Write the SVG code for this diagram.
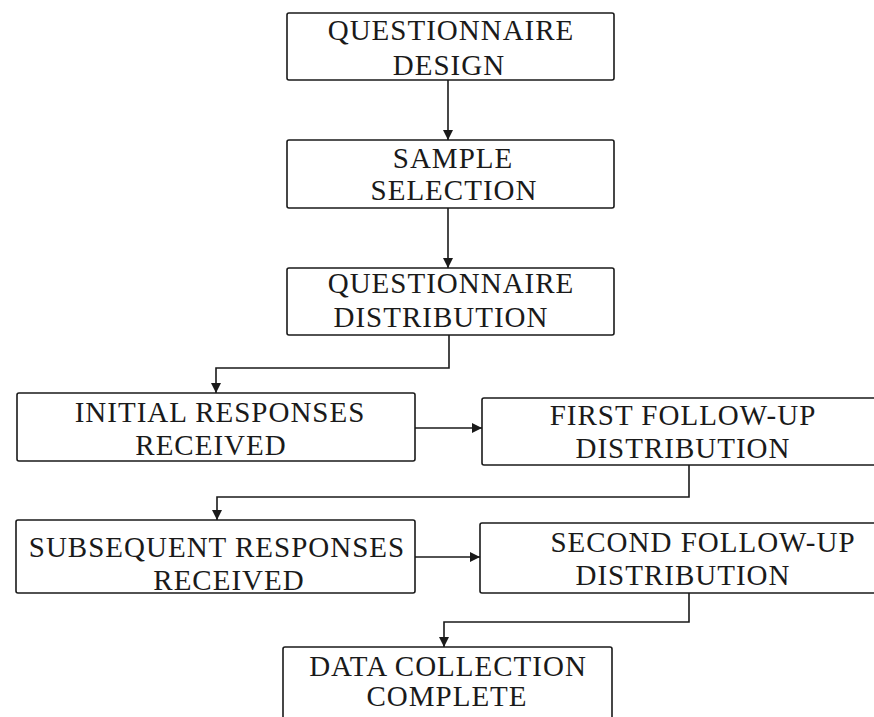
<svg xmlns="http://www.w3.org/2000/svg" width="874" height="717" viewBox="0 0 874 717">
  <defs>
    <marker id="arrow" viewBox="0 0 10 10" refX="10" refY="5" markerWidth="10" markerHeight="10" markerUnits="userSpaceOnUse" orient="auto">
      <path d="M0,0 L10,5 L0,10 Z" fill="#1a1a1a"/>
    </marker>
    <style>
      .box { fill: #ffffff; stroke: #1a1a1a; stroke-width: 1.6; }
      .lbl { font-family: "Liberation Serif", "Times New Roman", serif; font-size: 29px; fill: #1a1a1a; text-anchor: middle; letter-spacing: 1px; }
      .wire { fill: none; stroke: #1a1a1a; stroke-width: 1.6; }
    </style>
  </defs>
  <rect width="874" height="717" fill="#ffffff"/>

  <g id="connectors">
    <path class="wire" d="M448,80 L448,140" marker-end="url(#arrow)"/>
    <path class="wire" d="M448,208 L448,268" marker-end="url(#arrow)"/>
    <path class="wire" d="M449,335 L449,368 L216,368 L216,393" marker-end="url(#arrow)"/>
    <path class="wire" d="M415,428 L482,428" marker-end="url(#arrow)"/>
    <path class="wire" d="M689,465 L689,497 L217,497 L217,520" marker-end="url(#arrow)"/>
    <path class="wire" d="M415,557 L480,557" marker-end="url(#arrow)"/>
    <path class="wire" d="M689,593 L689,622 L444,622 L444,647" marker-end="url(#arrow)"/>
  </g>

  <g id="questionnaire-design">
    <rect class="box" x="287" y="13" width="327" height="67" rx="2"/>
    <text class="lbl" x="451" y="40">QUESTIONNAIRE</text>
    <text class="lbl" x="449" y="75">DESIGN</text>
  </g>

  <g id="sample-selection">
    <rect class="box" x="287" y="140" width="327" height="68" rx="2"/>
    <text class="lbl" x="453" y="168">SAMPLE</text>
    <text class="lbl" x="454" y="200">SELECTION</text>
  </g>

  <g id="questionnaire-distribution">
    <rect class="box" x="287" y="268" width="327" height="67" rx="2"/>
    <text class="lbl" x="451" y="293">QUESTIONNAIRE</text>
    <text class="lbl" x="441" y="327">DISTRIBUTION</text>
  </g>

  <g id="initial-responses">
    <rect class="box" x="17" y="393" width="398" height="68" rx="2"/>
    <text class="lbl" x="220" y="422">INITIAL RESPONSES</text>
    <text class="lbl" x="211" y="455">RECEIVED</text>
  </g>

  <g id="first-follow-up">
    <rect class="box" x="482" y="398" width="400" height="67" rx="2"/>
    <text class="lbl" x="683" y="425">FIRST FOLLOW-UP</text>
    <text class="lbl" x="683" y="458">DISTRIBUTION</text>
  </g>

  <g id="subsequent-responses">
    <rect class="box" x="16" y="520" width="399" height="73" rx="2"/>
    <text class="lbl" x="217" y="557">SUBSEQUENT RESPONSES</text>
    <text class="lbl" x="229" y="590">RECEIVED</text>
  </g>

  <g id="second-follow-up">
    <rect class="box" x="480" y="523" width="402" height="70" rx="2"/>
    <text class="lbl" x="703" y="552">SECOND FOLLOW-UP</text>
    <text class="lbl" x="683" y="585">DISTRIBUTION</text>
  </g>

  <g id="data-collection-complete">
    <rect class="box" x="283" y="647" width="329" height="90" rx="2"/>
    <text class="lbl" x="448" y="676">DATA COLLECTION</text>
    <text class="lbl" x="447" y="706">COMPLETE</text>
  </g>
</svg>
